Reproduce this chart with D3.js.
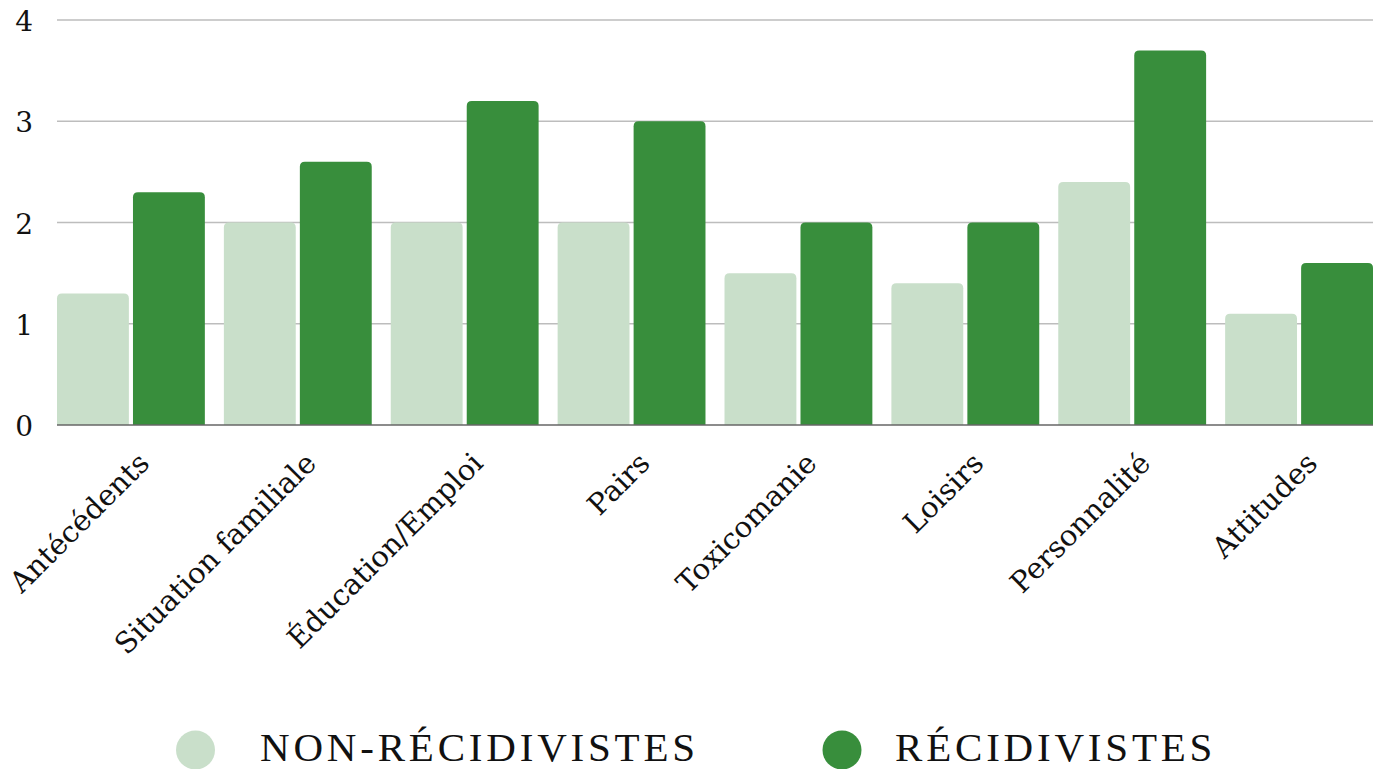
<!DOCTYPE html>
<html>
<head>
<meta charset="utf-8">
<script src="https://cdn.jsdelivr.net/npm/d3@7"></script>
<style>
  html, body { margin: 0; padding: 0; background: #fff; }
  svg text { fill: #111; }
  .axis-label { font-family: "DejaVu Serif", "Liberation Serif", serif; }
  .legend-label { font-family: "Liberation Serif", "DejaVu Serif", serif; }
</style>
</head>
<body>
<svg id="chart" width="1377" height="769"></svg>
<script>
// ── Data ─────────────────────────────────────────────────────────────────────
const CATEGORIES = ["Antécédents", "Situation familiale", "Éducation/Emploi", "Pairs",
                    "Toxicomanie", "Loisirs", "Personnalité", "Attitudes"];
const SERIES     = ["NON-RÉCIDIVISTES", "RÉCIDIVISTES"];
const NON_RECID  = [1.3, 2.0, 2.0, 2.0, 1.5, 1.4, 2.4, 1.1];
const RECID      = [2.3, 2.6, 3.2, 3.0, 2.0, 2.0, 3.7, 1.6];
const Y_TICKS    = [0, 1, 2, 3, 4];
const COLORS     = ["#c9dfca", "#388e3c"];

// ── Dimensions ───────────────────────────────────────────────────────────────
const plot = { left: 57, right: 1373, top: 20, bottom: 425 };

const svg = d3.select("#chart");

// ── Scales ───────────────────────────────────────────────────────────────────
const x = d3.scaleBand().domain(CATEGORIES).range([plot.left, plot.right])
  .paddingInner(0.114).paddingOuter(0);
const xInner = d3.scaleBand().domain(SERIES).range([0, x.bandwidth()])
  .paddingInner(0.054).paddingOuter(0);
const y = d3.scaleLinear().domain([0, 4]).range([plot.bottom, plot.top]);

// ── Grid ─────────────────────────────────────────────────────────────────────
svg.append("g")
  .selectAll("line")
  .data(Y_TICKS.filter(d => d > 0))
  .join("line")
  .attr("x1", plot.left).attr("x2", plot.right)
  .attr("y1", d => y(d)).attr("y2", d => y(d))
  .attr("stroke", "#bdbdbd").attr("stroke-width", 1.3);

// y labels
svg.append("g")
  .selectAll("text")
  .data(Y_TICKS)
  .join("text")
  .attr("class", "axis-label")
  .attr("x", 33).attr("y", d => y(d) + 11)
  .attr("text-anchor", "end")
  .style("font-size", "28px")
  .text(d => d);

// ── Bars (rounded top corners) ───────────────────────────────────────────────
function topRounded(x0, y0, w, h, r) {
  r = Math.min(r, h, w / 2);
  return `M${x0},${y0 + h}V${y0 + r}Q${x0},${y0} ${x0 + r},${y0}` +
         `H${x0 + w - r}Q${x0 + w},${y0} ${x0 + w},${y0 + r}V${y0 + h}Z`;
}

const rows = CATEGORIES.map((c, i) => ({ cat: c, vals: [NON_RECID[i], RECID[i]] }));

svg.append("g")
  .selectAll("g")
  .data(rows)
  .join("g")
  .attr("transform", d => `translate(${x(d.cat)},0)`)
  .selectAll("path")
  .data(d => d.vals.map((v, j) => ({ s: SERIES[j], v, j })))
  .join("path")
  .attr("fill", d => COLORS[d.j])
  .attr("d", d => topRounded(xInner(d.s), y(d.v), xInner.bandwidth(), y(0) - y(d.v), 5));

// baseline
svg.append("line")
  .attr("x1", plot.left).attr("x2", plot.right)
  .attr("y1", y(0)).attr("y2", y(0))
  .attr("stroke", "#666").attr("stroke-width", 1.5);

// ── X labels ────────────────────────────────────────────────────────────────
svg.append("g")
  .selectAll("text")
  .data(CATEGORIES)
  .join("text")
  .attr("class", "axis-label")
  .attr("transform", d => `translate(${x(d) + x.bandwidth() / 2 + 20},${plot.bottom + 40}) rotate(-45)`)
  .attr("text-anchor", "end")
  .style("font-size", "29px")
  .text(d => d);

// ── Legend ───────────────────────────────────────────────────────────────────
const legendDot  = [195.5, 842];
const legendText = [260, 895];
const legend = svg.append("g")
  .selectAll("g")
  .data(SERIES)
  .join("g");
legend.append("circle")
  .attr("cx", (d, i) => legendDot[i]).attr("cy", 750)
  .attr("r", 19.5).attr("fill", (d, i) => COLORS[i]);
legend.append("text")
  .attr("class", "legend-label")
  .attr("x", (d, i) => legendText[i]).attr("y", 761)
  .style("font-size", "41px")
  .style("letter-spacing", "3.8px")
  .text(d => d);
</script>
</body>
</html>
